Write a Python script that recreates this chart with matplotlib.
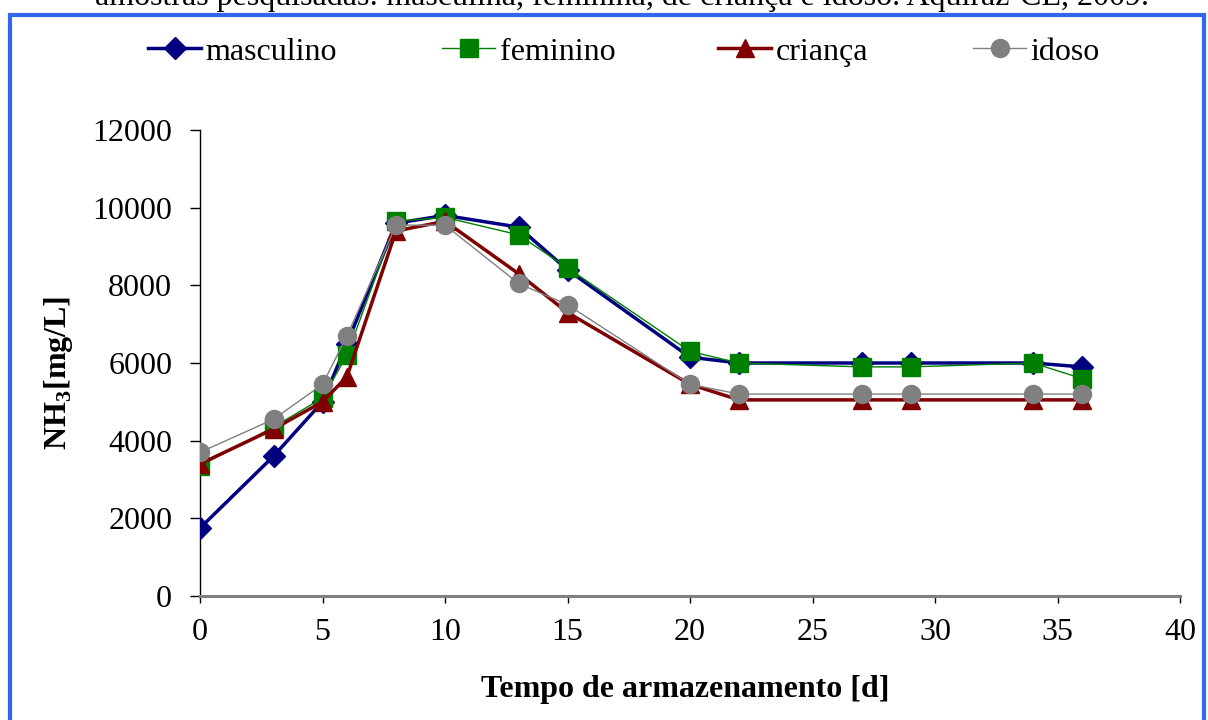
import matplotlib
matplotlib.use("Agg")
import matplotlib.pyplot as plt
from matplotlib.patches import Rectangle

plt.rcParams['font.family'] = ['Liberation Serif', 'DejaVu Serif']
plt.rcParams['mathtext.fontset'] = 'custom'
plt.rcParams['mathtext.rm'] = 'Liberation Serif'
plt.rcParams['mathtext.bf'] = 'Liberation Serif:bold'

# Storage time (days)
dias = [0, 3, 5, 6, 8, 10, 13, 15, 20, 22, 27, 29, 34, 36]

# NH3 concentration (mg/L) per sample
masculino = [1750, 3600, 5000, 6500, 9600, 9800, 9500, 8400, 6150, 6000, 6000, 6000, 6000, 5900]
feminino = [3350, 4350, 5100, 6200, 9650, 9750, 9300, 8450, 6300, 6000, 5900, 5900, 6000, 5600]
crianca = [3400, 4300, 5000, 5650, 9400, 9650, 8300, 7300, 5450, 5050, 5050, 5050, 5050, 5050]
idoso = [3700, 4550, 5450, 6700, 9550, 9550, 8050, 7500, 5450, 5200, 5200, 5200, 5200, 5200]

x_ticks = [0, 5, 10, 15, 20, 25, 30, 35, 40]
y_ticks = [0, 2000, 4000, 6000, 8000, 10000, 12000]

W, H = 1208, 720
FS = 23
fig = plt.figure(figsize=(W / 100, H / 100), dpi=100)
ax = fig.add_axes([200 / W, 1 - 596 / H, (1180 - 200) / W, (596 - 130) / H])

h1, = ax.plot(dias, masculino, color='#000080', lw=2.5, marker='D', ms=11,
              label='masculino', zorder=3)
h2, = ax.plot(dias, feminino, color='#008000', lw=1.0, marker='s', ms=13,
              label='feminino', zorder=4)
h3, = ax.plot(dias, crianca, color='#800000', lw=2.5, marker='^', ms=13,
              label='criança', zorder=5)
h4, = ax.plot(dias, idoso, color='#808080', lw=1.0, marker='o', ms=13,
              label='idoso', zorder=6)

ax.set_xlim(0, 40)
ax.set_ylim(0, 12000)
ax.set_xticks(x_ticks)
ax.set_yticks(y_ticks)
ax.tick_params(axis='both', labelsize=FS, direction='out', width=1,
               color='black')
ax.tick_params(axis='y', length=7, pad=13)
ax.tick_params(axis='x', length=5, pad=11)

for side in ('top', 'right'):
    ax.spines[side].set_visible(False)
ax.spines['left'].set_color('black')
ax.spines['left'].set_linewidth(1)
ax.spines['bottom'].set_color('#808080')
ax.spines['bottom'].set_linewidth(2.2)
for sp in ax.spines.values():
    sp.set_clip_on(False)

ax.set_xlabel('Tempo de armazenamento [d]', fontsize=FS, fontweight='bold')
ax.xaxis.set_label_coords((685 - 200) / 980, -0.1695)
ax.set_ylabel(r'NH$_\mathbf{3}$[mg/L]', fontsize=FS, fontweight='bold')
ax.yaxis.set_label_coords(-0.128, 0.4785)

# One legend entry per slot along the top
slots = [(h1, 148), (h2, 442), (h3, 718), (h4, 973)]
for handle, left in slots:
    fig.legend(handles=[handle], loc='center left',
               bbox_to_anchor=(left / W, 1 - 52 / H), frameon=False,
               fontsize=FS, handlelength=1.66, handletextpad=0.15,
               borderpad=0, borderaxespad=0)

# Caption line partially visible above the frame
fig.text(0.515, 1 - 5 / H,
         'amostras pesquisadas: masculina, feminina, de criança e idoso. Aquiraz-CE, 2009.',
         ha='center', va='baseline', fontsize=FS)

# Blue frame around the chart area
fig.patches.append(Rectangle((9.5 / W, -0.1), (1204 - 9.5) / W, 1.1 - 15 / H,
                             transform=fig.transFigure, fill=False,
                             edgecolor='#3366ee', lw=3, zorder=0))

fig.savefig('out.png', dpi=100, facecolor='white')
